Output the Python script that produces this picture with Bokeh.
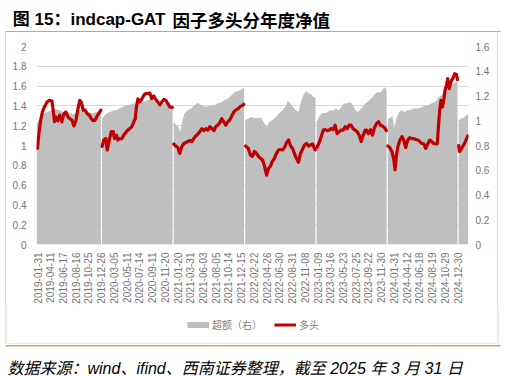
import math
from bokeh.plotting import figure
from bokeh.layouts import column
from bokeh.models import (Range1d, LinearAxis, FixedTicker, NumeralTickFormatter,
                          Legend, LegendItem)
from bokeh.core.properties import value
from bokeh.embed import file_html
from bokeh.resources import INLINE

# ---------------- data ----------------
title_a = "图 15：indcap-GAT"
title_b = "因子多头分年度净值"
source_note = "数据来源：wind、ifind、西南证券整理，截至 2025 年 3 月 31 日"
legend_excess = "超额（右）"
legend_long = "多头"

tick_labels = ["2019-01-31", "2019-04-11", "2019-06-17", "2019-08-16", "2019-10-25",
               "2019-12-26", "2020-03-05", "2020-05-11", "2020-07-14", "2020-09-11",
               "2020-11-20", "2021-01-20", "2021-03-31", "2021-06-03", "2021-08-05",
               "2021-10-14", "2021-12-15", "2022-02-22", "2022-04-26", "2022-06-30",
               "2022-08-31", "2022-11-08", "2023-01-09", "2023-03-16", "2023-05-23",
               "2023-07-25", "2023-09-22", "2023-11-30", "2024-01-31", "2024-04-12",
               "2024-06-18", "2024-08-19", "2024-10-29", "2024-12-30"]
tick_days = [0, 44, 88, 132, 176, 220, 264, 308, 352, 396, 440, 484, 528, 572, 616,
             660, 704, 748, 792, 836, 880, 924, 968, 1012, 1056, 1100, 1144, 1188,
             1232, 1276, 1320, 1364, 1408, 1452]

# 多头 (left axis), one segment per year: trading-day index and net value
long_days = [
    [0, 3, 10, 17, 24, 33, 41, 50, 54, 59, 63, 70, 77, 84, 91, 98, 105, 112, 119, 126,
     133, 139, 146, 151, 158, 165, 172, 179, 186, 192, 199, 206, 213, 219],
    [223, 229, 236, 241, 248, 255, 262, 266, 273, 278, 285, 292, 298, 305, 312, 319, 326,
     333, 338, 342, 347, 354, 361, 368, 374, 379, 388, 395, 402, 409, 416, 423, 430, 437,
     444, 451, 457, 466],
    [471, 478, 485, 492, 499, 506, 513, 520, 527, 534, 540, 547, 554, 561, 568, 575, 582,
     589, 596, 603, 610, 616, 623, 630, 637, 644, 651, 658, 665, 672, 679, 686, 693, 699,
     706, 713],
    [719, 729, 736, 743, 750, 757, 764, 771, 778, 785, 792, 799, 805, 812, 819, 826, 833,
     840, 847, 854, 861, 868, 875, 882, 888, 895, 902, 909, 916, 923, 930, 937, 944, 951,
     960],
    [966, 974, 981, 988, 994, 1001, 1008, 1015, 1022, 1029, 1036, 1043, 1050, 1057, 1064,
     1071, 1077, 1084, 1091, 1098, 1105, 1112, 1119, 1126, 1133, 1137, 1144, 1151, 1158,
     1165, 1172, 1179, 1186, 1193, 1200, 1206],
    [1211, 1218, 1225, 1232, 1236, 1241, 1246, 1253, 1260, 1266, 1273, 1280, 1287, 1294,
     1301, 1308, 1315, 1322, 1329, 1336, 1342, 1349, 1356, 1363, 1370, 1377, 1382, 1386,
     1391, 1395, 1400, 1405, 1409, 1414, 1418, 1423, 1428, 1432, 1437, 1442, 1448, 1452],
    [1456, 1459, 1464, 1470, 1476, 1482, 1488],
]
long_nav = [
    [0.97, 1.07, 1.24, 1.34, 1.39, 1.44, 1.457, 1.45, 1.357, 1.24, 1.29, 1.25, 1.307, 1.24,
     1.32, 1.34, 1.29, 1.27, 1.256, 1.196, 1.256, 1.357, 1.457, 1.44, 1.357, 1.357, 1.32,
     1.307, 1.27, 1.25, 1.256, 1.297, 1.33, 1.357],
    [0.99, 1.055, 1.07, 0.955, 1.055, 1.14, 1.14, 1.07, 1.105, 1.055, 1.07, 1.07, 1.105,
     1.13, 1.156, 1.17, 1.19, 1.24, 1.27, 1.39, 1.47, 1.44, 1.47, 1.51, 1.525, 1.525, 1.53,
     1.47, 1.50, 1.465, 1.44, 1.41, 1.44, 1.465, 1.457, 1.42, 1.39, 1.385],
    [1.015, 0.995, 0.98, 0.92, 0.99, 1.02, 1.03, 1.04, 1.05, 1.04, 1.07, 1.095, 1.115,
     1.14, 1.17, 1.15, 1.17, 1.156, 1.19, 1.17, 1.15, 1.19, 1.205, 1.23, 1.27, 1.24, 1.205,
     1.24, 1.26, 1.30, 1.34, 1.36, 1.37, 1.39, 1.40, 1.417],
    [0.995, 0.97, 0.905, 0.89, 0.94, 0.92, 0.89, 0.87, 0.854, 0.79, 0.70, 0.77, 0.79, 0.84,
     0.87, 0.92, 0.955, 0.96, 0.955, 0.98, 1.03, 1.055, 0.995, 0.97, 0.92, 0.87, 0.83, 0.92,
     0.96, 1.005, 1.02, 0.995, 1.005, 1.015, 0.955],
    [0.98, 1.03, 1.09, 1.156, 1.16, 1.15, 1.156, 1.17, 1.16, 1.205, 1.12, 1.14, 1.156,
     1.156, 1.19, 1.17, 1.205, 1.205, 1.17, 1.156, 1.14, 1.105, 1.04, 1.105, 1.156, 1.156,
     1.12, 1.16, 1.105, 1.18, 1.22, 1.24, 1.205, 1.196, 1.18, 1.15],
    [0.995, 0.98, 0.94, 0.854, 0.754, 0.905, 0.99, 1.055, 1.09, 1.055, 0.98, 1.055, 1.08,
     1.07, 1.07, 1.06, 1.055, 1.04, 1.02, 1.015, 0.97, 1.015, 1.055, 1.04, 1.02, 1.015,
     1.015, 1.19, 1.37, 1.457, 1.39, 1.47, 1.56, 1.61, 1.675, 1.575, 1.63, 1.66, 1.685,
     1.725, 1.72, 1.665],
    [1.0, 0.94, 0.96, 0.99, 1.02, 1.06, 1.10],
]

# 超额 (right axis), one segment per year
excess_days = [
    [-3, 3, 10, 21, 35, 45, 55, 69, 80, 90, 104, 114, 124, 135, 149, 162, 176, 190, 204, 219],
    [223, 235, 249, 263, 277, 290, 304, 318, 332, 346, 360, 373, 387, 401, 415, 429, 442,
     456, 467],
    [471, 479, 487, 494, 501, 508, 520, 531, 543, 554, 566, 577, 589, 600, 612, 623, 635,
     646, 658, 670, 681, 693, 704, 711, 714],
    [718, 739, 750, 762, 773, 782, 792, 801, 812, 824, 835, 847, 856, 865, 875, 884, 893,
     902, 909, 916, 923, 930, 937, 946, 955, 961],
    [965, 976, 985, 994, 1004, 1013, 1022, 1031, 1041, 1050, 1059, 1068, 1077, 1087, 1096,
     1105, 1114, 1124, 1133, 1140, 1149, 1158, 1167, 1177, 1186, 1193, 1200, 1204, 1207],
    [1211, 1216, 1220, 1227, 1234, 1241, 1250, 1260, 1269, 1280, 1292, 1303, 1315, 1326,
     1338, 1349, 1361, 1372, 1382, 1386, 1395, 1405, 1414, 1424, 1434, 1445, 1452],
    [1456, 1465, 1474, 1481, 1489],
]
excess_nav = [
    [0.97, 1.0, 1.03, 1.06, 1.07, 1.08, 1.09, 1.09, 1.08, 1.07, 1.07, 1.06, 1.05, 1.07,
     1.09, 1.08, 1.07, 1.06, 1.07, 1.08],
    [1.02, 1.05, 1.07, 1.08, 1.09, 1.11, 1.12, 1.13, 1.14, 1.14, 1.15, 1.16, 1.17, 1.16,
     1.15, 1.14, 1.14, 1.12, 1.11],
    [0.99, 0.965, 0.95, 0.91, 1.005, 1.06, 1.085, 1.10, 1.125, 1.145, 1.125, 1.115, 1.115,
     1.125, 1.125, 1.14, 1.15, 1.165, 1.18, 1.205, 1.23, 1.24, 1.25, 1.26, 1.27],
    [1.005, 1.03, 1.02, 1.025, 1.025, 0.99, 0.95, 0.99, 1.005, 1.03, 1.06, 1.085, 1.11,
     1.16, 1.14, 1.11, 1.085, 1.07, 1.14, 1.19, 1.225, 1.24, 1.22, 1.215, 1.19, 1.19],
    [0.99, 1.045, 1.065, 1.06, 1.07, 1.085, 1.08, 1.10, 1.085, 1.11, 1.14, 1.14, 1.15,
     1.14, 1.10, 1.07, 1.085, 1.11, 1.14, 1.15, 1.17, 1.19, 1.22, 1.23, 1.23, 1.25, 1.27,
     1.26, 1.25],
    [1.005, 1.025, 1.02, 1.04, 0.94, 1.02, 1.07, 1.085, 1.07, 1.085, 1.09, 1.10, 1.10,
     1.11, 1.12, 1.125, 1.14, 1.15, 1.165, 1.19, 1.20, 1.23, 1.25, 1.27, 1.29, 1.31, 1.32],
    [1.005, 1.02, 1.025, 1.045, 1.055],
]

left_ticks = [0, 0.2, 0.4, 0.6, 0.8, 1.0, 1.2, 1.4, 1.6, 1.8, 2.0]
right_ticks = [0, 0.2, 0.4, 0.6, 0.8, 1.0, 1.2, 1.4, 1.6]

# ---------------- styling ----------------
RED = "#C00000"
GREY = "#BFBFBF"
LABEL = "#767676"
ORANGE = "#CFA66A"
BOXLINE = "#D9D9D9"
SANS = "'Liberation Sans', 'Noto Sans CJK SC'"
CJK = "'Noto Sans CJK SC'"
W = 506


def strip(height):
    f = figure(width=W, height=height, output_backend="svg", toolbar_location=None,
               x_range=Range1d(0, W), y_range=Range1d(0, height),
               x_axis_location=None, y_axis_location=None,
               min_border_left=0, min_border_right=0, min_border_top=0,
               min_border_bottom=0, frame_align=False)
    f.outline_line_color = None
    f.grid.visible = False
    f.background_fill_color = "white"
    f.border_fill_color = "white"
    return f


# ---- top strip: page y 0..32 (y measured up from strip bottom) ----
top = strip(32)
top.text(x=[165], y=[13], text=[title_a], text_font=value(SANS), text_font_style="bold",
         text_font_size="17px", text_color="black", text_baseline="alphabetic",
         text_align="right")
top.text(x=[172], y=[13], text=[title_b], text_font=value(CJK), text_font_style="bold",
         text_font_size="17.5px", text_color="black", text_baseline="alphabetic")
top.quad(left=[5], right=[500], top=[1.5], bottom=[0], fill_color=ORANGE, line_color=None)

# ---- main chart: page y 32..306 ----
p = figure(width=W, height=274, output_backend="svg", toolbar_location=None,
           x_range=Range1d(-3.5, 1490), y_range=Range1d(0, 2),
           min_border_left=36, min_border_right=38, min_border_top=14,
           min_border_bottom=61, frame_align=False)
p.extra_y_ranges = {"right": Range1d(0, 1.6)}
p.outline_line_color = None
p.background_fill_color = "white"
p.border_fill_color = None
p.styles = {"background-color": "white",
            "background-image": f"linear-gradient({BOXLINE}, {BOXLINE}), "
                                f"linear-gradient({BOXLINE}, {BOXLINE})",
            "background-size": "1px 100%, 1px 100%",
            "background-position": "5px 0px, 497px 0px",
            "background-repeat": "no-repeat"}

for d, v in zip(excess_days, excess_nav):
    p.varea(x=d, y1=[0] * len(d), y2=v, fill_color=GREY, y_range_name="right")

p.multi_line(xs=long_days, ys=long_nav, line_color=RED, line_width=3.2,
             line_join="round", line_cap="round")

p.xgrid.visible = False
p.ygrid.ticker = FixedTicker(ticks=left_ticks)
p.ygrid.grid_line_color = BOXLINE
p.ygrid.grid_line_width = 1


def style_axis(ax, standoff):
    ax.axis_line_color = None
    ax.major_tick_line_color = None
    ax.minor_tick_line_color = None
    ax.major_tick_out = 0
    ax.major_tick_in = 0
    ax.major_label_standoff = standoff
    ax.major_label_text_font_size = "10px"
    ax.major_label_text_color = LABEL
    ax.major_label_text_font = SANS


xa = p.xaxis[0]
xa.ticker = FixedTicker(ticks=tick_days)
xa.major_label_overrides = {d: s for d, s in zip(tick_days, tick_labels)}
xa.major_label_orientation = math.pi / 2
style_axis(xa, 8)

ya = p.yaxis[0]
ya.ticker = FixedTicker(ticks=left_ticks)
ya.formatter = NumeralTickFormatter(format="0.[0]")
style_axis(ya, 10)

yr = LinearAxis(y_range_name="right", ticker=FixedTicker(ticks=right_ticks),
                formatter=NumeralTickFormatter(format="0.[0]"))
style_axis(yr, 7)
p.add_layout(yr, "right")

# ---- legend strip: page y 306..344 ----
leg = strip(38)
leg.quad(left=[5, 497, 5], right=[6, 498, 498], top=[38, 38, 1], bottom=[1, 1, 0],
         fill_color=BOXLINE, line_color=None)
r_ex = leg.line(x=[math.nan], y=[math.nan], line_color=GREY, line_width=6)
r_lg = leg.line(x=[math.nan], y=[math.nan], line_color=RED, line_width=3)
legend = Legend(items=[LegendItem(label=legend_excess, renderers=[r_ex]),
                       LegendItem(label=legend_long, renderers=[r_lg])],
                orientation="horizontal", location=(187, 12),
                padding=0, margin=0, border_line_color=None, background_fill_alpha=0,
                glyph_width=22, glyph_height=13, label_height=13, label_standoff=3,
                spacing=12, label_text_font_size="10px", label_text_color="#7F7F7F",
                label_text_font=CJK)
leg.add_layout(legend)

# ---- bottom strip: page y 344..377 ----
bottom = strip(33)
bottom.quad(left=[5], right=[500], top=[32.5], bottom=[31], fill_color=ORANGE,
            line_color=None)
bottom.text(x=[7], y=[9], text=[source_note], text_font=value(SANS),
            text_font_style="italic", text_font_size="16px", text_color="black",
            text_baseline="alphabetic")

layout = column(top, p, leg, bottom, spacing=0)
open("out.html", "w").write(file_html(layout, INLINE))
